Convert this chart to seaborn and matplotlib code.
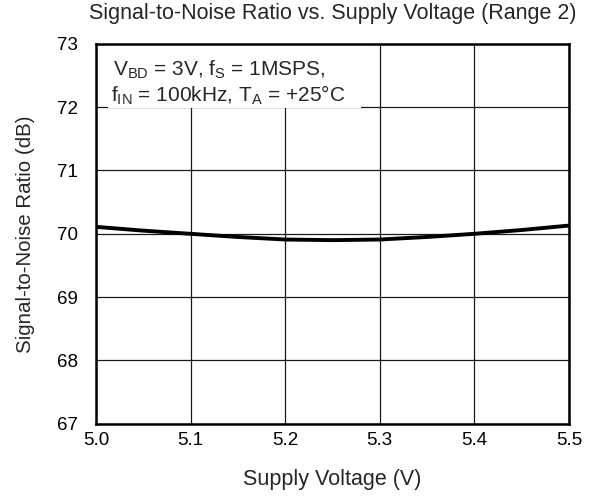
import matplotlib
matplotlib.use("Agg")
import matplotlib.pyplot as plt
import seaborn as sns
import pandas as pd
from matplotlib.patches import Rectangle

# Measured SNR across the supply range
supply_v = [5.0, 5.05, 5.1, 5.15, 5.2, 5.25, 5.3, 5.35, 5.4, 5.45, 5.5]
snr_db = [70.11, 70.05, 70.00, 69.95, 69.91, 69.90, 69.91, 69.95, 70.00, 70.06, 70.13]
x_ticks = [5.0, 5.1, 5.2, 5.3, 5.4, 5.5]
y_ticks = [67, 68, 69, 70, 71, 72, 73]

sns.set_style("white")
plt.rcParams["font.family"] = ["Liberation Sans", "DejaVu Sans"]
plt.rcParams["mathtext.fontset"] = "custom"
plt.rcParams["mathtext.rm"] = "Liberation Sans"
plt.rcParams["mathtext.it"] = "Liberation Sans"

df = pd.DataFrame({"Supply Voltage (V)": supply_v, "SNR": snr_db})

fig = plt.figure(figsize=(5.92, 4.98), dpi=100)
ax = fig.add_axes([0.162, 0.149, 0.799, 0.763])

sns.lineplot(data=df, x="Supply Voltage (V)", y="SNR", ax=ax,
             color="black", linewidth=2.8, zorder=4)

ax.set_xlim(5.0, 5.5)
ax.set_ylim(67, 73)
ax.set_xticks(x_ticks)
ax.set_xticklabels([f"{v:.1f}" for v in x_ticks])
ax.set_yticks(y_ticks)
ax.grid(True, color="#1a1a1a", linewidth=0.9, zorder=1)
ax.set_axisbelow(True)
for s in ax.spines.values():
    s.set_linewidth(1.8)
    s.set_color("black")
    s.set_zorder(5)
ax.tick_params(axis="both", length=0, labelsize=13.5, colors="black")
ax.tick_params(axis="x", pad=6)
ax.tick_params(axis="y", pad=13)

ax.set_xlabel("Supply Voltage (V)", fontsize=15.5)
ax.set_ylabel("Signal-to-Noise Ratio (dB)", fontsize=14.8)
ax.xaxis.set_label_coords(0.5, -0.147)
ax.xaxis.label.set_va("center")
ax.yaxis.set_label_coords(-0.148, 0.5)
ax.yaxis.label.set_va("center")
ax.set_title("Signal-to-Noise Ratio vs. Supply Voltage (Range 2)",
             fontsize=15.5, y=1.079, va="center", pad=0)

# Conditions box
ax.add_patch(Rectangle((5.013, 71.99), 0.267, 1.0, facecolor="white",
                       edgecolor="none", zorder=2))
ax.text(5.018, 72.59, r"V$_{\rm BD}$ = 3V, f$_{\rm S}$ = 1MSPS,",
        fontsize=15, ha="left", va="center", zorder=3)
ax.text(5.016, 72.19, r"f$_{\rm IN}$ = 100kHz, T$_{\rm A}$ = +25°C",
        fontsize=15, ha="left", va="center", zorder=3)

fig.savefig("out.png", dpi=100)
